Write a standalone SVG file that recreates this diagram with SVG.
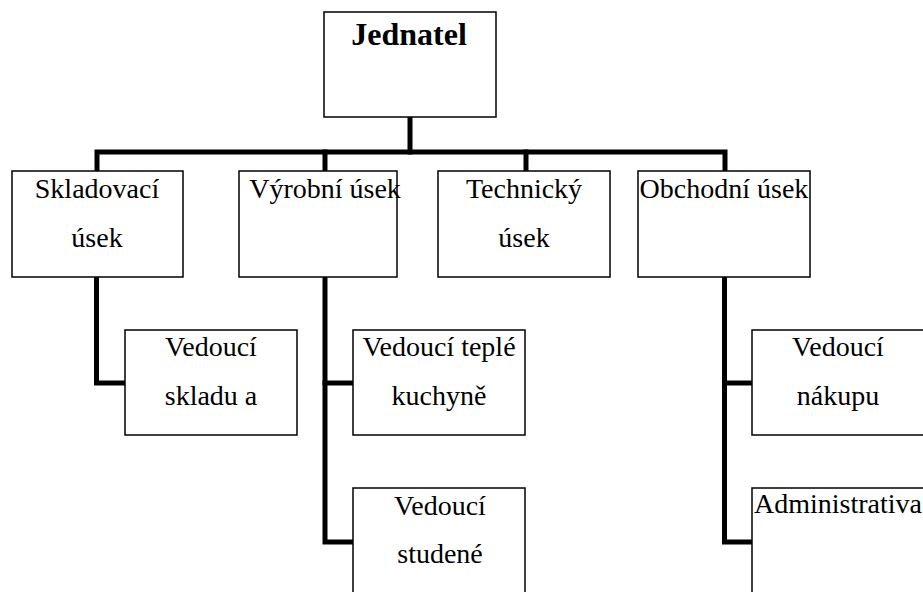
<svg xmlns="http://www.w3.org/2000/svg" width="923" height="592" viewBox="0 0 923 592">
<style>
.box{fill:#fff;stroke:#000;stroke-width:1.5}
.t{font-family:"Liberation Serif","Times New Roman",serif;font-size:28px;fill:#000;text-anchor:middle}
.b{font-weight:bold;font-size:32px}
.c{fill:none;stroke:#000;stroke-width:5;stroke-linejoin:miter;stroke-linecap:square}
</style>
<rect width="923" height="592" fill="#fff"/>
<g id="connectors">
<path class="c" d="M410 118 V152"/>
<path class="c" d="M97 170 V152 H725 V170"/>
<path class="c" d="M325 152 V170"/>
<path class="c" d="M526 152 V170"/>
<path class="c" d="M96.5 278 V383 H124"/>
<path class="c" d="M325 278 V542 H352"/>
<path class="c" d="M325 383 H352"/>
<path class="c" d="M724.5 278 V542 H751"/>
<path class="c" d="M724.5 383 H751"/>
</g>
<g id="jednatel">
<rect class="box" x="324" y="12" width="172" height="105"/>
<text class="t b" x="409" y="45">Jednatel</text>
</g>
<g id="skladovaci">
<rect class="box" x="12" y="171" width="171" height="106"/>
<text class="t" x="97" y="198">Skladovací</text>
<text class="t" x="97" y="247">úsek</text>
</g>
<g id="vyrobni">
<rect class="box" x="239" y="171" width="158" height="106"/>
<text class="t" x="325" y="198">Výrobní úsek</text>
</g>
<g id="technicky">
<rect class="box" x="438" y="171" width="172" height="106"/>
<text class="t" x="524" y="198">Technický</text>
<text class="t" x="524" y="247">úsek</text>
</g>
<g id="obchodni">
<rect class="box" x="638" y="171" width="172" height="106"/>
<text class="t" x="724" y="198">Obchodní úsek</text>
</g>
<g id="vedouci-skladu">
<rect class="box" x="125" y="330" width="172" height="105"/>
<text class="t" x="211" y="356">Vedoucí</text>
<text class="t" x="211" y="405">skladu a</text>
</g>
<g id="vedouci-teple">
<rect class="box" x="353" y="330" width="172" height="105"/>
<text class="t" x="439" y="356">Vedoucí teplé</text>
<text class="t" x="439" y="405">kuchyně</text>
</g>
<g id="vedouci-studene">
<rect class="box" x="353" y="488" width="172" height="110"/>
<text class="t" x="440" y="515">Vedoucí</text>
<text class="t" x="440" y="563">studené</text>
</g>
<g id="vedouci-nakupu">
<rect class="box" x="752" y="330" width="172" height="105"/>
<text class="t" x="838" y="356">Vedoucí</text>
<text class="t" x="838" y="405">nákupu</text>
</g>
<g id="administrativa">
<rect class="box" x="752" y="488" width="180" height="110"/>
<text class="t" x="838" y="513">Administrativa</text>
</g>
</svg>
